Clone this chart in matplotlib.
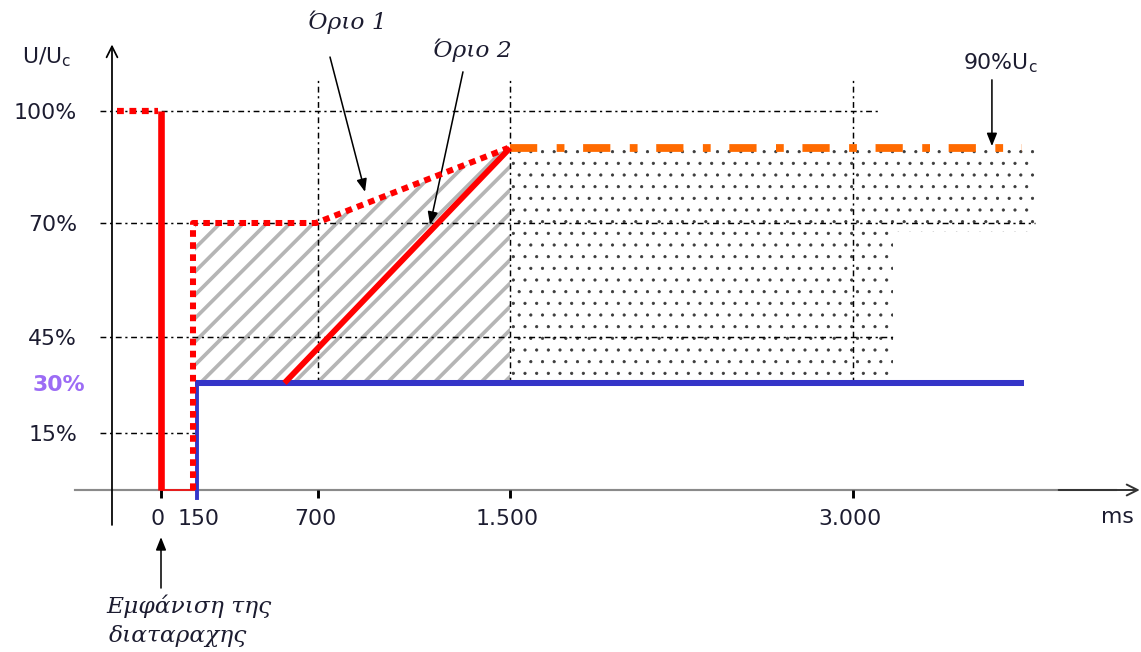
import numpy as np
import matplotlib
matplotlib.use('Agg')
import matplotlib.pyplot as plt
from matplotlib.patches import Polygon
from matplotlib import transforms

# ---- data (x: ms, y: % of Uc) ----
x_ticks = [0, 150, 700, 1500, 3000]
x_labels = ['0', '150', '700', '1.500', '3.000']
y_ticks = [100, 70, 45, 30, 15]
y_labels = ['100%', '70%', '45%', '30%', '15%']

pre_x = [-192, -15]          # pre-fault level
pre_y = [100, 100]
dip_x = [0, 0]               # fault instant
dip_y = [100, 0]
floor_x = [0, 150]
floor_y = [0, 0]
lim1_x = [150, 150, 700, 1500]    # Όριο 1
lim1_y = [0, 70, 70, 90]
lim2_x = [550, 1500]              # Όριο 2
lim2_y = [30, 90]
blue_x = [150, 150, 3750]
blue_y = [-2, 30, 30]
orange_x = [1500, 3740]
orange_y = [90, 90]
hatch_x = [150, 150, 700, 1500, 1500]
hatch_y = [30, 70, 70, 90, 30]
dots_x = [1500, 1500, 3796, 3796, 3175, 3175]
dots_y = [30, 90, 90, 68, 68, 30]

# ---- non-uniform schematic axes (value -> pixel) ----
x_lv = [-1000, 0, 150, 700, 1500, 3000, 5000]
x_px = [-68, 161, 195, 318, 510, 853, 1310]
y_lv = [-60, 0, 15, 30, 45, 70, 90, 100, 150]
y_px = [-228, 0, 57, 107, 153, 267, 342, 379, 569]

fx = lambda v: np.interp(v, x_lv, x_px)
fxi = lambda v: np.interp(v, x_px, x_lv)
fy = lambda v: np.interp(v, y_lv, y_px)
fyi = lambda v: np.interp(v, y_px, y_lv)

plt.rcParams['mathtext.fontset'] = 'custom'
plt.rcParams['mathtext.rm'] = 'DejaVu Sans'

DPI = 140
fig = plt.figure(figsize=(1141 / DPI, 652 / DPI), dpi=DPI)
ax = fig.add_axes([0, 0, 1, 1])
ax.set_xscale('function', functions=(fx, fxi))
ax.set_yscale('function', functions=(fy, fyi))
ax.set_xlim(fxi(0), fxi(1141))
ax.set_ylim(fyi(-162), fyi(490))
ax.axis('off')

txt = '#1c1c30'
sans = 'DejaVu Sans'
fs = 11.3

# hatched / dotted zones
with plt.rc_context({'hatch.linewidth': 1.9}):
    p1 = Polygon(list(zip(hatch_x, hatch_y)), closed=True, facecolor='none',
                 edgecolor='#b5b5b5', lw=0, hatch='//', zorder=1)
    ax.add_patch(p1)
with plt.rc_context({'hatch.linewidth': 0.4}):
    p2 = Polygon(list(zip(dots_x, dots_y)), closed=True, facecolor='none',
                 edgecolor='#3a3a3a', lw=0, hatch='..', zorder=1)
    ax.add_patch(p2)

# grid lines
gls = (0, (4, 2.5, 1.5, 2.5))
gkw = dict(colors='black', linestyles=[gls], lw=0.75, zorder=2)
ax.hlines(100, -266, 3118, **gkw)
ax.hlines(70, -266, 3796, **gkw)
ax.hlines(45, -266, 3183, **gkw)
ax.hlines(15, -266, 150, **gkw)
ax.vlines([700, 1500], 30, 108.7, **gkw)
ax.vlines(3000, 30, 108.2, **gkw)

# axes
ax.plot([-376, 4150], [0, 0], color='#8a8a8a', lw=1.1, zorder=2)
ax.annotate('', xy=(4255, 0), xytext=(3900, 0),
            arrowprops=dict(arrowstyle='->', color='#333333', lw=1.0,
                            shrinkA=0, shrinkB=0, mutation_scale=14))
ax.annotate('', xy=(-214, 117.5), xytext=(-214, -9.2),
            arrowprops=dict(arrowstyle='->', color='black', lw=0.9,
                            shrinkA=0, shrinkB=0, mutation_scale=14))
ax.vlines([0, 700, 1500, 3000], -2.1, 0, colors='black', lw=1.5, zorder=3)

# curves
dot = (0, (1.1, 0.9))
ax.plot(pre_x, pre_y, color='red', lw=3.2, ls=dot, solid_capstyle='butt',
        dash_capstyle='butt', zorder=4)
ax.plot(dip_x, dip_y, color='red', lw=3.4, solid_capstyle='butt', zorder=4)
ax.plot(floor_x, floor_y, color='red', lw=0.8, zorder=4)
shl = transforms.offset_copy(ax.transData, fig=fig, x=-2, y=0, units='dots')
shr = transforms.offset_copy(ax.transData, fig=fig, x=2, y=0, units='dots')
ax.plot(lim1_x, lim1_y, color='red', lw=3.1, ls=dot, dash_capstyle='butt',
        transform=shl, zorder=5)
ax.plot(lim2_x, lim2_y, color='red', lw=3.0, solid_capstyle='butt', zorder=5)
ax.plot(blue_x[:2], blue_y[:2], color='#3535c8', lw=2.0, transform=shr, zorder=4)
ax.plot(blue_x[1:], blue_y[1:], color='#3535c8', lw=3.1, solid_capstyle='butt', zorder=4)
ax.plot(orange_x, orange_y, color='#ff6a00', lw=4.0,
        ls=(0, (3.5, 2.5, 1.0, 2.4)), dash_capstyle='butt', zorder=4)

# tick labels
for t, lab in zip(x_ticks, x_labels):
    ax.annotate(lab, xy=(t, 0), xytext=(4 if t == 150 else -3, -35),
                textcoords='offset pixels', ha='center', va='baseline',
                fontsize=fs, family=sans, color=txt)
ax.annotate('ms', xy=(4159, 0), xytext=(0, -33), textcoords='offset pixels',
            ha='center', va='baseline', fontsize=fs, family=sans, color=txt)
for v, lab in zip(y_ticks, y_labels):
    if v == 30:
        ax.annotate(lab, xy=(-367, v), xytext=(8, -8), textcoords='offset pixels',
                    ha='right', va='baseline', fontsize=fs, family=sans,
                    color='#9c6cf5', fontweight='bold')
    else:
        ax.annotate(lab, xy=(-367, v), xytext=(0, -8), textcoords='offset pixels',
                    ha='right', va='baseline', fontsize=fs, family=sans, color=txt)
ax.text(-607, 112.6, r'U/U$_\mathregular{c}$', ha='left', va='baseline',
        fontsize=fs, family=sans, color=txt)

# annotations
akw = dict(arrowstyle='-|>,head_length=0.55,head_width=0.22', color='black',
           lw=0.8, shrinkA=0, shrinkB=0, mutation_scale=10)
serif = dict(family='DejaVu Serif', style='italic', fontsize=12, color=txt)
ax.text(821, 123.4, 'Όριο 1', ha='center', va='center', **serif)
ax.annotate('', xy=(896, 78.3), xytext=(750, 114.2), arrowprops=akw)
ax.text(1342, 116, 'Όριο 2', ha='center', va='center', **serif)
ax.annotate('', xy=(1167, 69.6), xytext=(1304, 110.3), arrowprops=akw)
ax.text(3481, 112.6, r'90%U$_\mathregular{c}$', ha='left', va='center',
        fontsize=fs, family=sans, color=txt)
ax.annotate('', xy=(3608, 90.5), xytext=(3608, 108.2), arrowprops=akw)
ax.annotate('', xy=(0, -12.4), xytext=(0, -25.8), arrowprops=akw)
ax.text(-240, -32.4, 'Εμφάνιση της', ha='left', va='baseline', **serif)
ax.text(-228, -40, 'διαταραχης', ha='left', va='baseline', **serif)

fig.savefig('out.png', dpi=DPI, facecolor='white')
